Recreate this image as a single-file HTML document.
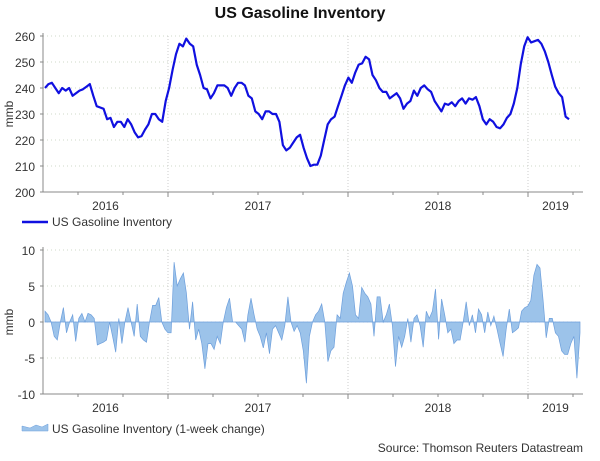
<!DOCTYPE html>
<html><head><meta charset="utf-8"><style>
html,body{margin:0;padding:0;background:#fff;}
svg text{font-family:"Liberation Sans",Arial,sans-serif;fill:#333;}
</style></head><body>
<svg width="600" height="456" viewBox="0 0 600 456" id="chart">
<text x="300" y="18" text-anchor="middle" font-size="16" font-weight="bold" style="fill:#111">US Gasoline Inventory</text>
<g id="top"></g><g id="bot"></g>
<g>
<line x1="22" y1="222" x2="48" y2="222" stroke="#1010e0" stroke-width="2.5"/>
<text x="52" y="226" font-size="12">US Gasoline Inventory</text></g>
<g>
<path d="M48,431 L22,431 L22,426 L30,428 L36,425 L42,427 L48,424 Z" fill="#9cc3ea" stroke="#6d9fdc" stroke-width="0.5"/>
<text x="52" y="433" font-size="12">US Gasoline Inventory (1-week change)</text></g>
<text x="583" y="452" text-anchor="end" font-size="12">Source: Thomson Reuters Datastream</text>
</svg>
<script>
const levelValues=[240,241.5,242,240,238,240,239,240,237,238,239,239.5,240.5,241.5,237,233,232.5,232,228,228.5,225,227,227,225,228,226,223,221,221.5,224,226,230,230,228,227,235,240,247,253,257,256,259,257,256,249,245,240,239.5,236,238,241,241,241,240,237,240,242,242,241,237,236,231,230,228,231,231,230,230,227,218,216,217,219,221,222,217,213,210,210.5,210.5,214,220,226,228,229,233,237,241,244,242,246,249,249.5,252,251,245,243,240,238.5,238.5,236,237,238,236,232,234,235,239,237,240,241,239.5,238.5,235,233,231,234,233.5,234.5,233,235,236,234,236,235.5,236.5,233,228,226,228,227,225,224.5,226,228.5,230,234,240,249,256,259.5,257.5,258,258.5,257,254,250,245,240.5,238,236.5,229,228];
const changeValues=[1.5,1,0,-2,-2.5,0,2,-1.5,0,1,-2.7,0.5,1.2,0,1.2,1,0.5,-3.2,-3,-2.8,-2.5,0,-2,-4.2,0.5,-3,0,2,0,-2,2.5,-2,-2.5,-2.8,0,2.3,2.3,3.4,0,-1,-1.5,-1.5,8.3,5,6,6.8,4,-1,2.8,-2.5,-1,-3,-6.5,-3,-3,-3.8,-2,-3,0,2,3.3,0,0,-0.5,-1,-2.8,1,3.3,1,-1,-2,-3.6,-1.5,-4.4,-1,-0.5,-1.5,-2.5,-0.5,3.5,0,-1.3,-0.5,-1.5,-4,-8.5,-2,0,1,1.5,2.5,0,-5.5,-4,-3.5,1,0.5,4,5.5,6.8,5,1,0.5,4.8,4,3.5,2.5,-2,3.5,3.5,0,1,2.5,-0.5,-6.2,-2,-3.5,-2,0.5,-2.8,0.5,1,-0.5,-3.5,1.5,0.5,1.5,4.6,-2.4,3.2,1,-1.5,-1,-3,-2.5,-2.5,0,2.8,-0.5,1,-1.5,1.8,1,-1.5,1.4,-0.5,0.8,-1,-3,-4.8,-1,1.8,-1.5,-1.2,-0.8,1.5,2,2.2,3,6.5,8,7.5,3,-2.2,0.5,0.5,-1.5,-2,-4,-4.5,-4.5,-3,-2,-7.8,-1.5];
const topTicks=[200,210,220,230,240,250,260];
const botTicks=[-10,-5,0,5,10];
const yearLabels=["2016","2017","2018","2019"];
const NS="http://www.w3.org/2000/svg";
function mk(tag,attrs,parent){const e=document.createElementNS(NS,tag);for(const k in attrs)e.setAttribute(k,attrs[k]);parent.appendChild(e);return e;}
const L=43,R=583;
const yearStart=[-12,168,348,528];
function panel(g,top,bottom,ymin,ymax,ticks,name){
  const y=v=>bottom-(v-ymin)/(ymax-ymin)*(bottom-top);
  ticks.forEach(t=>{
    if(t!==ymin){const gl=mk('line',{x1:L,x2:R,y1:y(t),y2:y(t),stroke:'#cfd8c8','stroke-dasharray':'1,3'},g);
    
    }
    const tx=mk('text',{x:L-8,y:y(t)+5,'text-anchor':'end','font-size':'12'},g);tx.textContent=t;
    
    
    mk('line',{x1:L-3,x2:L,y1:y(t),y2:y(t),stroke:'#888'},g);
  });
  [168,348,528].forEach(x=>mk('line',{x1:x,x2:x,y1:top,y2:bottom,stroke:'#ccc','stroke-dasharray':'1,2'},g));
  mk('line',{x1:L,x2:L,y1:top-3,y2:bottom,stroke:'#888'},g);
  mk('line',{x1:L,x2:R,y1:bottom,y2:bottom,stroke:'#888'},g);
  for(let x=168-135;x<R;x+=45){if(x>L)mk('line',{x1:x,x2:x,y1:bottom,y2:bottom+(((x-168)%180===0)?5:3),stroke:'#888'},g);}
  yearLabels.forEach((yl,i)=>{const a=Math.max(L,yearStart[i]),b=Math.min(R,yearStart[i]+180);
    const tx=mk('text',{x:(a+b)/2,y:bottom+18,'text-anchor':'middle','font-size':'12'},g);tx.textContent=yl;
    
    });
  const yt=mk('text',{x:0,y:0,'text-anchor':'middle','font-size':'12',transform:`translate(13,${(top+bottom)/2}) rotate(-90)`},g);yt.textContent='mmb';
  
  
  return y;
}
const gt=document.getElementById('top'),gb=document.getElementById('bot');
const yT=panel(gt,36,192,200,260,topTicks,'top');
const xT=i=>45+i*(569-45)/(levelValues.length-1);
const pts=levelValues.map((v,i)=>xT(i).toFixed(1)+','+yT(v).toFixed(1)).join(' ');
const pl=mk('polyline',{points:pts,fill:'none',stroke:'#1010e0','stroke-width':2.2,'stroke-linejoin':'round'},gt);


const yB=panel(gb,250,394,-10,10,botTicks,'bottom');
const xB=i=>45+i*(580-45)/(changeValues.length-1);
let d='M'+xB(0)+','+yB(0);
changeValues.forEach((v,i)=>{d+=' L'+xB(i).toFixed(1)+','+yB(v).toFixed(1);});
d+=' L'+xB(changeValues.length-1)+','+yB(0)+' Z';
const ar=mk('path',{d:d,fill:'#9cc3ea',stroke:'#6d9fdc','stroke-width':0.7},gb);


</script>
</body></html>
